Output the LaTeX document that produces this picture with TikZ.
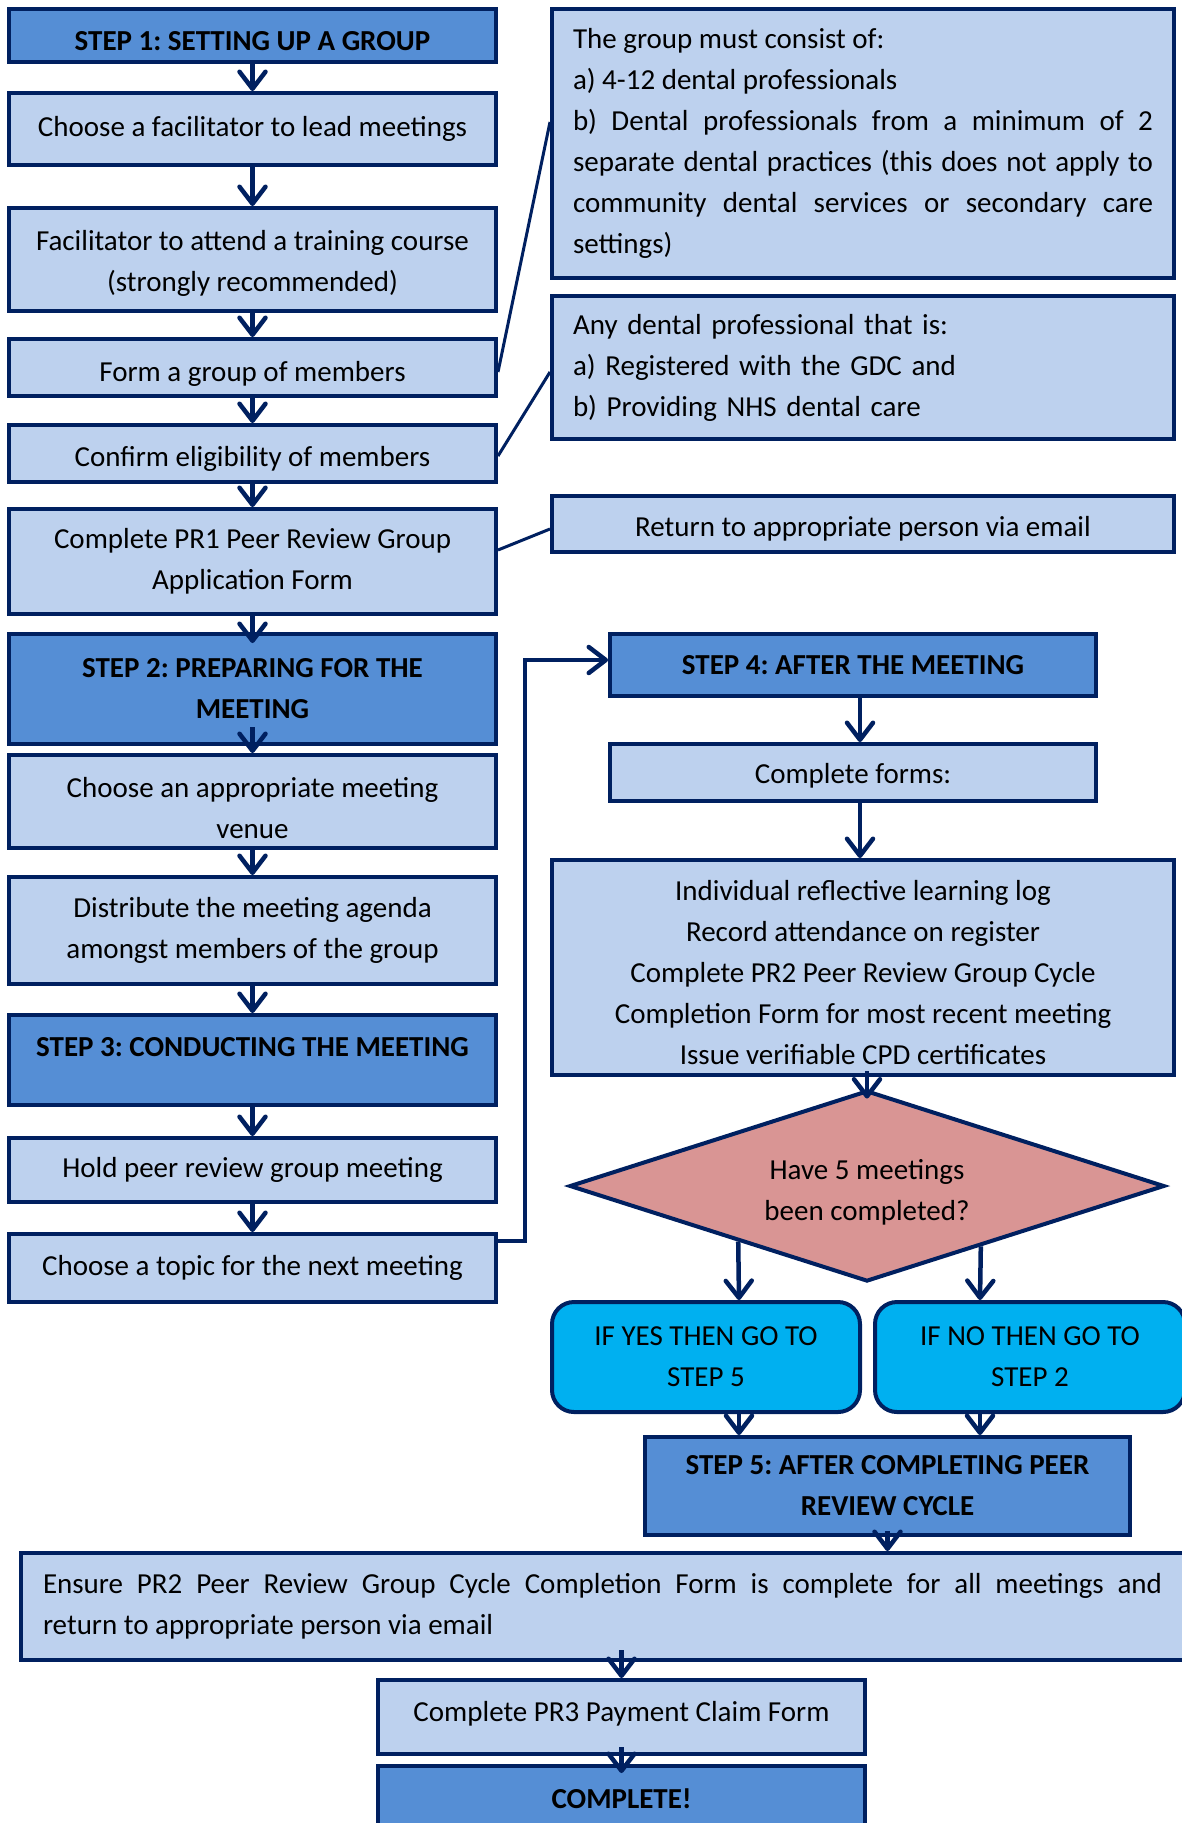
\documentclass[tikz,border=0pt]{standalone}
\usepackage{fontspec}
\setmainfont{Carlito}
\usetikzlibrary{shapes.geometric,arrows.meta,calc}
\definecolor{navy}{RGB}{0,32,96}
\definecolor{lightb}{RGB}{189,209,238}
\definecolor{stepb}{RGB}{85,142,213}
\definecolor{diam}{RGB}{217,149,148}
\definecolor{cyanb}{RGB}{0,176,240}
\newcommand\sh[1]{\rule{0pt}{#1pt}}
\newcommand\shu[1]{\rule[-#1pt]{0pt}{0pt}}
\begin{document}
\begin{tikzpicture}[x=1pt,y=-1pt,
  base/.style={draw=navy, line width=4pt, inner sep=0pt, font=\fontsize{29}{41}\selectfont\frenchspacing, align=center},
  lbox/.style={base, fill=lightb},
  sbox/.style={base, fill=stepb, font=\fontsize{29}{41}\selectfont\frenchspacing\bfseries},
  ybox/.style={base, fill=cyanb, rounded corners=22pt},
  dbox/.style={base, fill=diam, shape=diamond, aspect=3},
  wh/.style 2 args={minimum width=#1pt, minimum height=#2pt},
  arr/.style={navy, line width=4.5pt, -{Straight Barb[length=17pt,width=26pt,round]}},
  link/.style={navy, line width=3pt},
]
\useasboundingbox (0,0) rectangle (1182,1823);
\fill[white] (0,0) rectangle (1182,1823);
% left column
\node[sbox, wh={487}{53}] (s1) at (252.5,35.5) {\sh{30}STEP 1: SETTING UP A GROUP};
\node[lbox, wh={487}{72}] (fac) at (252.5,129) {Choose a facilitator to lead meetings};
\node[lbox, wh={487}{103}] (train) at (252.5,259.5) {\sh{27}Facilitator to attend a training course\\(strongly recommended)};
\node[lbox, wh={487}{57}] (form) at (252.5,367.5) {\sh{32}Form a group of members};
\node[lbox, wh={487}{57}] (conf) at (252.5,453.5) {\sh{30}Confirm eligibility of members};
\node[lbox, wh={487}{105}] (pr1) at (252.5,561.5) {Complete PR1 Peer Review Group\\Application Form};
\node[sbox, wh={487}{110}] (s2) at (252.5,689) {STEP 2: PREPARING FOR THE\\MEETING};
\node[lbox, wh={487}{93}] (venue) at (252.5,801.5) {\sh{34}Choose an appropriate meeting\\venue};
\node[lbox, wh={487}{107}] (dist) at (252.5,930.5) {Distribute the meeting agenda\\amongst members of the group};
\node[sbox, wh={487}{90}] (s3) at (252.5,1060) {\sh{34}STEP 3: CONDUCTING THE MEETING\\\mbox{}};
\node[lbox, wh={487}{64}] (hold) at (252.5,1170) {Hold peer review group meeting};
\node[lbox, wh={487}{68}] (topic) at (252.5,1268) {Choose a topic for the next meeting};
% right column
\node[lbox, wh={622}{269}, text width=580pt, align=justify] (A) at (863,143.5) {The group must consist of:\\a) 4-12 dental professionals\\b) Dental professionals from a minimum of 2\linebreak separate dental practices (this does not apply to\linebreak community dental services or secondary care\linebreak settings)};
\node[lbox, wh={622}{143}, text width=580pt, align=left] (B) at (863,367.5) {Any dental professional that is:\\a) Registered with the GDC and\\b) Providing NHS dental care};
\node[lbox, wh={622}{56}] (C) at (863,524) {\sh{30}Return to appropriate person via email};
\node[sbox, wh={486}{62}] (s4) at (853,665) {STEP 4: AFTER THE MEETING};
\node[lbox, wh={486}{57}] (forms) at (853,772.5) {\sh{27}Complete forms:};
\node[lbox, wh={622}{215}] (big) at (863,967.5) {\sh{30}Individual reflective learning log\\Record attendance on register\\Complete PR2 Peer Review Group Cycle\\Completion Form for most recent meeting\\Issue verifiable CPD certificates};
\node[dbox, minimum width=595pt, minimum height=191pt] (dia) at (867,1186) {\sh{32}Have 5 meetings\\been completed?};
\node[ybox, wh={308}{110}] (yes) at (706,1357) {IF YES THEN GO TO\\STEP 5};
\node[ybox, wh={310}{110}] (no) at (1030,1357) {IF NO THEN GO TO\\STEP 2};
\node[sbox, wh={485}{98}] (s5) at (887.5,1486) {STEP 5: AFTER COMPLETING PEER\\REVIEW CYCLE};
\node[lbox, wh={1163}{107}, text width=1119pt, align=justify] (ens) at (602.5,1606.5) {Ensure PR2 Peer Review Group Cycle Completion Form is complete for all meetings and\linebreak return to appropriate person via email};
\node[lbox, wh={487}{74}] (pr3) at (621.5,1717) {Complete PR3 Payment Claim Form\shu{12}};
\node[sbox, wh={487}{66}] (done) at (621.5,1799) {COMPLETE!};
% arrows left
\draw[arr] (s1.south) -- (fac.north);
\draw[arr] (fac.south) -- (train.north);
\draw[arr] (train.south) -- (form.north);
\draw[arr] (form.south) -- (conf.north);
\draw[arr] (conf.south) -- (pr1.north);
\draw[arr] (pr1.south) -- ([yshift=-11pt]s2.north);
\draw[arr] ([yshift=19pt]s2.south) -- (venue.north);
\draw[arr] (venue.south) -- (dist.north);
\draw[arr] (dist.south) -- (s3.north);
\draw[arr] (s3.south) -- (hold.north);
\draw[arr] (hold.south) -- (topic.north);
\draw[arr] ([yshift=27pt]topic.east) -- ++(27,0) |- ([yshift=5pt]s4.west);
% arrows right
\draw[arr] ([xshift=7pt]s4.south) -- ([xshift=7pt]forms.north);
\draw[arr] ([xshift=7pt]forms.south) -- ([xshift=-3pt]big.north);
\draw[arr] ([xshift=4pt,yshift=6pt]big.south) -- ([yshift=-10pt]dia.north);
\draw[arr] ($(dia.west)!0.57!(dia.south)$) -- ([xshift=33pt]yes.north);
\draw[arr] ($(dia.south)!0.38!(dia.east)$) -- ([xshift=-50pt]no.north);
\draw[arr] ([xshift=33pt]yes.south) -- ([xshift=33pt]yes.south |- s5.north);
\draw[arr] ([xshift=-50pt]no.south) -- ([xshift=-50pt]no.south |- s5.north);
\draw[arr] ([yshift=6pt]s5.south) -- (s5.south |- ens.north);
\draw[arr] ($(ens.south -| pr3.north)+(0,-12)$) -- (pr3.north);
\draw[arr] ([yshift=9pt]pr3.south) -- ([yshift=-9pt]done.north);
% links
\draw[link] ([yshift=-4.5pt]form.east) -- ([yshift=21.5pt]A.west);
\draw[link] ([yshift=-2.5pt]conf.east) -- ([yshift=-4.5pt]B.west);
\draw[link] ([yshift=11.5pt]pr1.east) -- ([yshift=-5pt]C.west);
\end{tikzpicture}
\end{document}
